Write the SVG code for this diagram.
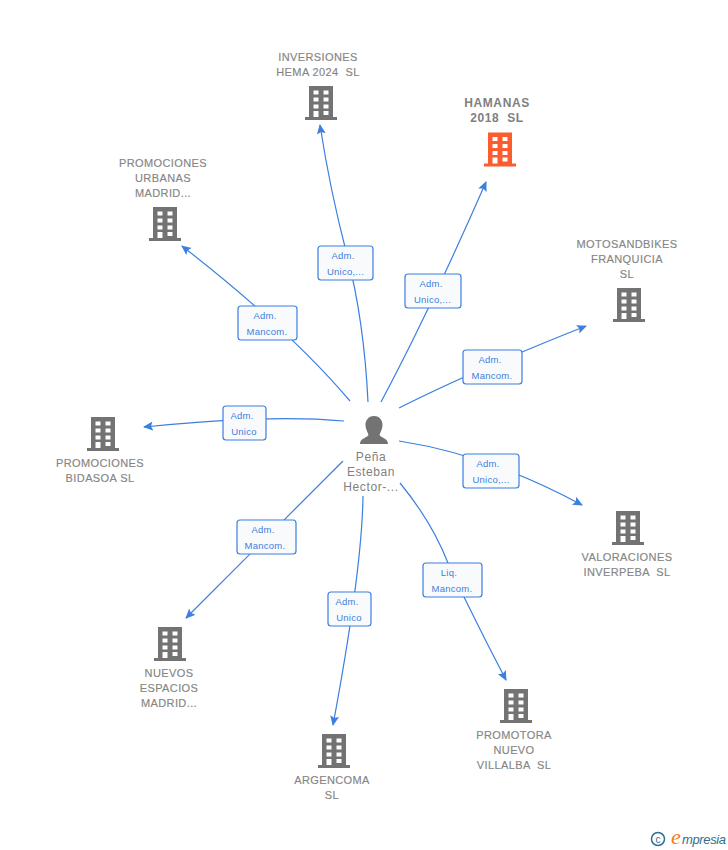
<svg xmlns="http://www.w3.org/2000/svg" width="728" height="850" viewBox="0 0 728 850">
<style>
text{font-family:"Liberation Sans",Arial,sans-serif}
.n{font-size:11px;fill:#858585;text-anchor:middle;letter-spacing:.4px;stroke:#858585;stroke-width:.15px}
.h{font-size:12px;fill:#808080;font-weight:bold;text-anchor:middle;letter-spacing:.6px}
.p{font-size:12px;fill:#7f7f7f;text-anchor:middle;letter-spacing:.6px}
.l{font-size:9.500px;fill:#3b7fdc;text-anchor:middle;letter-spacing:.25px}
.b{fill:#f9fafc;stroke:#3b7fe0;stroke-width:1.200}
.c{fill:none;stroke:#3b7fe0;stroke-width:1.200;marker-end:url(#a)}
</style>
<defs>
<marker id="a" markerUnits="userSpaceOnUse" markerWidth="12" markerHeight="10" refX="9" refY="4.500" orient="auto"><path d="M0 0L10 4.500L0 9L2 4.500Z" fill="#3b7fe0"/></marker>
<symbol id="bld" overflow="visible"><path fill-rule="evenodd" d="M-12-17H12V14H16V17H-16V14H-12ZM-7.500-12.500V-8.500H-2.500V-12.500ZM2.500-12.500V-8.500H7.500V-12.500ZM-7.500-5.500V-1.500H-2.500V-5.500ZM2.500-5.500V-1.500H7.500V-5.500ZM-7.500 1.500V5.500H-2.500V1.500ZM2.500 1.500V5.500H7.500V1.500ZM-7.500 8V14H-2.500V8ZM2.500 8V12H7.500V8Z"/></symbol>
</defs>
<g id="connectors">
<path class="c" d="M368 402Q364 320 347 255T320 125"/>
<path class="c" d="M381 402Q430 310 486 182"/>
<path class="c" d="M399 408Q470 372 586 326"/>
<path class="c" d="M399 441Q490 455 582 505"/>
<path class="c" d="M400 483Q432 522 448 563L464 597Q485 640 506 680"/>
<path class="c" d="M363 496Q362 570 333 725"/>
<path class="c" d="M343 461L186 618"/>
<path class="c" d="M344 421Q270 414 144 427"/>
<path class="c" d="M350 401Q290 330 182 246"/>
</g>
<g id="edge-labels">
<g><rect class="b" x="318" y="246" width="55" height="34" rx="3"/><text class="l" x="343" y="259">Adm.</text><text class="l" x="345.500" y="274.500">Unico,...</text></g>
<g><rect class="b" x="405" y="274" width="56" height="34" rx="3"/><text class="l" x="431" y="287">Adm.</text><text class="l" x="432.500" y="302.500">Unico,...</text></g>
<g><rect class="b" x="463" y="350" width="59" height="34" rx="3"/><text class="l" x="490" y="363">Adm.</text><text class="l" x="492" y="378.500">Mancom.</text></g>
<g><rect class="b" x="463" y="454" width="56" height="34" rx="3"/><text class="l" x="488" y="467">Adm.</text><text class="l" x="491" y="482.500">Unico,...</text></g>
<g><rect class="b" x="423" y="563" width="59" height="34" rx="3"/><text class="l" x="449" y="576">Liq.</text><text class="l" x="452" y="591.500">Mancom.</text></g>
<g><rect class="b" x="328" y="592" width="43" height="34" rx="3"/><text class="l" x="347" y="605">Adm.</text><text class="l" x="349" y="620.500">Unico</text></g>
<g><rect class="b" x="237" y="520" width="59" height="34" rx="3"/><text class="l" x="263" y="533">Adm.</text><text class="l" x="265" y="548.500">Mancom.</text></g>
<g><rect class="b" x="223" y="406" width="43" height="34" rx="3"/><text class="l" x="242" y="419">Adm.</text><text class="l" x="244" y="434.500">Unico</text></g>
<g><rect class="b" x="238" y="306" width="59" height="34" rx="3"/><text class="l" x="265" y="319">Adm.</text><text class="l" x="267" y="334.500">Mancom.</text></g>
</g>
<g id="person"><path fill="#737373" d="M374 416C380 416 383 421 382.500 426C382 430 380 433 379.500 435C381 438 388 438 388 444H360C360 438 367 438 368.500 435C368 433 366 430 365.500 426C365 421 368 416 374 416Z"/><text class="p" x="371" y="461">Peña</text><text class="p" x="371" y="476">Esteban</text><text class="p" x="371" y="491">Hector-...</text></g>
<g id="n1" fill="#737373"><use href="#bld" x="321" y="103"/><text class="n" x="318" y="61">INVERSIONES</text><text class="n" x="318" y="76" xml:space="preserve">HEMA 2024  SL</text></g>
<g id="n2" fill="#fc5c2e"><use href="#bld" x="500" y="149.500"/><text class="h" x="497" y="107">HAMANAS</text><text class="h" x="497" y="122" xml:space="preserve">2018  SL</text></g>
<g id="n3" fill="#737373"><use href="#bld" x="629" y="305"/><text class="n" x="627" y="248">MOTOSANDBIKES</text><text class="n" x="627" y="263">FRANQUICIA</text><text class="n" x="627" y="278">SL</text></g>
<g id="n4" fill="#737373"><use href="#bld" x="628" y="528"/><text class="n" x="627" y="561">VALORACIONES</text><text class="n" x="627" y="576" xml:space="preserve">INVERPEBA  SL</text></g>
<g id="n5" fill="#737373"><use href="#bld" x="516" y="706"/><text class="n" x="514" y="739">PROMOTORA</text><text class="n" x="514" y="754">NUEVO</text><text class="n" x="514" y="769" xml:space="preserve">VILLALBA  SL</text></g>
<g id="n6" fill="#737373"><use href="#bld" x="334" y="751"/><text class="n" x="332" y="784">ARGENCOMA</text><text class="n" x="332" y="799">SL</text></g>
<g id="n7" fill="#737373"><use href="#bld" x="170" y="644"/><text class="n" x="169" y="677">NUEVOS</text><text class="n" x="169" y="692">ESPACIOS</text><text class="n" x="169" y="707">MADRID...</text></g>
<g id="n8" fill="#737373"><use href="#bld" x="103" y="434"/><text class="n" x="100" y="467">PROMOCIONES</text><text class="n" x="100" y="482">BIDASOA SL</text></g>
<g id="n9" fill="#737373"><use href="#bld" x="165" y="224"/><text class="n" x="163" y="167">PROMOCIONES</text><text class="n" x="163" y="182">URBANAS</text><text class="n" x="163" y="197">MADRID...</text></g>
<g id="logo"><circle cx="658" cy="839" r="6.500" fill="none" stroke="#2f6f8f" stroke-width="1.500"/><text x="658" y="842.500" font-size="10" fill="#2f6f8f" text-anchor="middle">c</text><text x="671" y="844" font-size="22" font-style="italic" fill="#f08020" style="font-family:'Liberation Serif',serif">e</text><text x="682" y="844" font-size="13" font-style="italic" fill="#2f6f8f" textLength="44">mpresia</text></g>
</svg>
